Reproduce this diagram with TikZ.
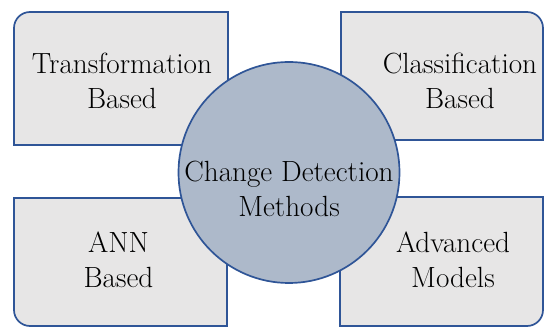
\documentclass[tikz,border=0pt]{standalone}

\definecolor{boxblue}{HTML}{2F5597}
\definecolor{boxgray}{HTML}{E7E6E6}
\definecolor{circfill}{HTML}{ADB9CA}

\tikzset{
	box line/.style={draw=boxblue, line width=1.7pt, fill=boxgray},
	method text/.style={align=center, inner sep=0pt, font=\fontsize{29.2}{35}\selectfont}
}

\begin{document}
\begin{tikzpicture}[x=1pt, y=1pt]
	\useasboundingbox (0,0) rectangle (544,327);
	% four boxes, only the outer corner is rounded
	\draw[box line] (228,182) -- (228,315) -- (30,315) arc[start angle=90, end angle=180, radius=16] -- (14,182) -- cycle;
	\draw[box line] (341,187) -- (341,315) -- (527,315) arc[start angle=90, end angle=0, radius=16] -- (543,187) -- cycle;
	\draw[box line] (227,129) -- (14,129) -- (14,17) arc[start angle=180, end angle=270, radius=16] -- (227,1) -- cycle;
	\draw[box line] (340,130) -- (543,130) -- (543,17) arc[start angle=0, end angle=-90, radius=16] -- (340,1) -- cycle;
	\foreach \pos/\name/\txt in {{(122,246)}/transf/{Transformation\\Based},
		{(460,246)}/classif/{Classification\\Based},
		{(118.5,67)}/ann/{ANN\\Based},
		{(453,67.5)}/advanced/{Advanced\\Models}}
		\node[method text] (\name) at \pos {\txt};
	% centre
	\draw[draw=boxblue, line width=1.7pt, fill=circfill] (289,154.5) circle (110.5);
	\node[method text] (cdm) at (289,138.4) {Change Detection\\Methods};
\end{tikzpicture}
\end{document}
